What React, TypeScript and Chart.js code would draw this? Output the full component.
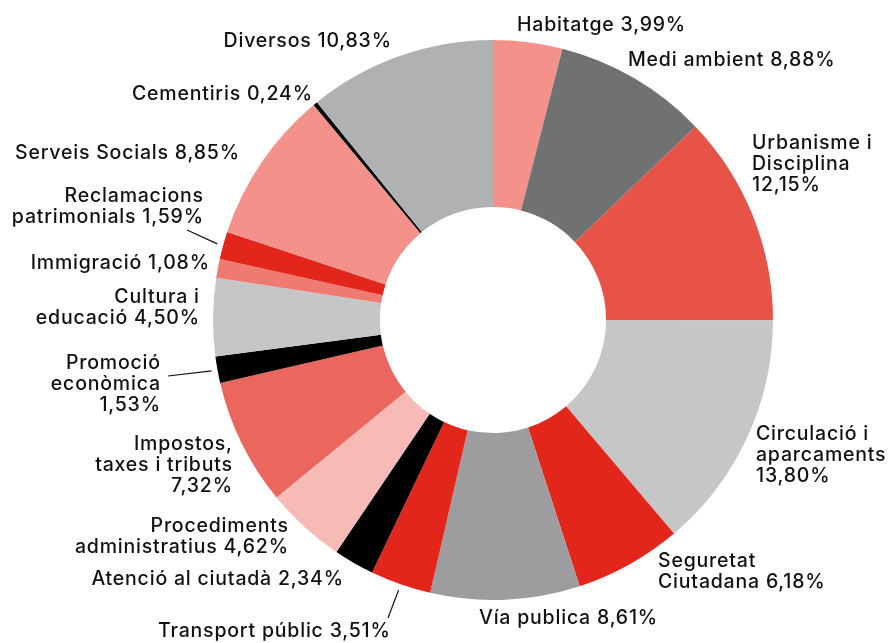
import React, { useEffect, useRef } from "react";
import { Chart, registerables } from "chart.js";

Chart.register(...registerables);

// ---- Data ----
const categories: string[] = [
  "Habitatge",
  "Medi ambient",
  "Urbanisme i Disciplina",
  "Circulació i aparcaments",
  "Seguretat Ciutadana",
  "Vía publica",
  "Transport públic",
  "Atenció al ciutadà",
  "Procediments administratius",
  "Impostos, taxes i tributs",
  "Promoció econòmica",
  "Cultura i educació",
  "Immigració",
  "Reclamacions patrimonials",
  "Serveis Socials",
  "Cementiris",
  "Diversos",
];

const shares: number[] = [
  3.99, 8.88, 12.15, 13.8, 6.18, 8.61, 3.51, 2.34, 4.62, 7.32, 1.53, 4.5, 1.08,
  1.59, 8.85, 0.24, 10.83,
];

const sliceColors: string[] = [
  "#f3918a",
  "#707173",
  "#e85348",
  "#c5c6c8",
  "#e2261b",
  "#9d9d9f",
  "#e2261b",
  "#000000",
  "#f6bbb6",
  "#eb675e",
  "#000000",
  "#c5c6c8",
  "#ef7a72",
  "#e2261b",
  "#f3918a",
  "#000000",
  "#b0b1b3",
];

// Label text lines (as printed)
const labelLines: string[][] = [
  ["Habitatge 3,99%"],
  ["Medi ambient 8,88%"],
  ["Urbanisme i", "Disciplina", "12,15%"],
  ["Circulació i", "aparcaments", "13,80%"],
  ["Seguretat", "Ciutadana 6,18%"],
  ["Vía publica 8,61%"],
  ["Transport públic 3,51%"],
  ["Atenció al ciutadà 2,34%"],
  ["Procediments", "administratius 4,62%"],
  ["Impostos,", "taxes i tributs", "7,32%"],
  ["Promoció", "econòmica", "1,53%"],
  ["Cultura i", "educació 4,50%"],
  ["Immigració 1,08%"],
  ["Reclamacions", "patrimonials 1,59%"],
  ["Serveis Socials 8,85%"],
  ["Cementiris 0,24%"],
  ["Diversos 10,83%"],
];

// ---- Label layout (offsets from the doughnut centre; baseline of first line) ----
type LabelPos = {
  align: "left" | "right";
  dx: number;
  dy: number;
  leader?: { dx: number; dy: number };
};
const labelLayout: LabelPos[] = [
  { align: "left", dx: 24, dy: -289 },
  { align: "left", dx: 135, dy: -254 },
  { align: "left", dx: 259, dy: -171 },
  { align: "left", dx: 263, dy: 120 },
  { align: "left", dx: 165, dy: 247 },
  { align: "left", dx: -14, dy: 304 },
  { align: "left", dx: -335, dy: 317, leader: { dx: -105, dy: 298 } },
  { align: "right", dx: -150, dy: 265 },
  { align: "right", dx: -205, dy: 212 },
  { align: "right", dx: -261, dy: 130 },
  { align: "right", dx: -333, dy: 49, leader: { dx: -325, dy: 56 } },
  { align: "right", dx: -294, dy: -17 },
  { align: "right", dx: -284, dy: -51 },
  { align: "right", dx: -290, dy: -118, leader: { dx: -306, dy: -90 } },
  { align: "right", dx: -254, dy: -161 },
  { align: "right", dx: -181, dy: -220 },
  { align: "right", dx: -102, dy: -273 },
];

const LINE_H = 21;
const FONT = "500 19.5px Inter, Roboto, 'Liberation Sans', sans-serif";
const SPACING = 0.8;

const outsideLabels = {
  id: "outsideLabels",
  afterDraw(chart: any) {
    const meta = chart.getDatasetMeta(0);
    if (!meta || !meta.data.length) return;
    const ctx: CanvasRenderingContext2D = chart.ctx;
    ctx.save();
    ctx.font = FONT;
    (ctx as any).letterSpacing = SPACING + "px";
    ctx.fillStyle = "#111111";
    ctx.strokeStyle = "#111111";
    ctx.lineWidth = 1.2;
    ctx.textBaseline = "alphabetic";
    meta.data.forEach((arc: any, i: number) => {
      const cx = arc.x;
      const cy = arc.y;
      const l = labelLayout[i];
      ctx.textAlign = l.align;
      const x = cx + l.dx + (l.align === "right" ? SPACING : 0);
      labelLines[i].forEach((line, j) => {
        ctx.fillText(line, x, cy + l.dy + j * LINE_H);
      });
      if (l.leader) {
        const mid = (arc.startAngle + arc.endAngle) / 2;
        const r = arc.outerRadius + 6;
        ctx.beginPath();
        ctx.moveTo(cx + l.leader.dx, cy + l.leader.dy);
        ctx.lineTo(cx + r * Math.cos(mid), cy + r * Math.sin(mid));
        ctx.stroke();
      }
    });
    ctx.restore();
  },
};

export default function App() {
  const ref = useRef<HTMLCanvasElement | null>(null);
  useEffect(() => {
    if (!ref.current) return;
    const chart = new Chart(ref.current, {
      type: "doughnut",
      data: {
        labels: categories,
        datasets: [
          {
            data: shares,
            backgroundColor: sliceColors,
            borderWidth: 0,
          },
        ],
      },
      options: {
        responsive: false,
        animation: false,
        events: [],
        cutout: "40.4%",
        layout: { padding: { left: 213, right: 118, top: 40, bottom: 43 } },
        plugins: {
          legend: { display: false },
          tooltip: { enabled: false },
        },
      },
      plugins: [outsideLabels],
    });
    return () => chart.destroy();
  }, []);
  return (
    <div
      style={{
        position: "absolute",
        left: 0,
        top: 0,
        width: 891,
        height: 643,
        background: "#ffffff",
      }}
    >
      <canvas ref={ref} width={891} height={643} />
    </div>
  );
}
